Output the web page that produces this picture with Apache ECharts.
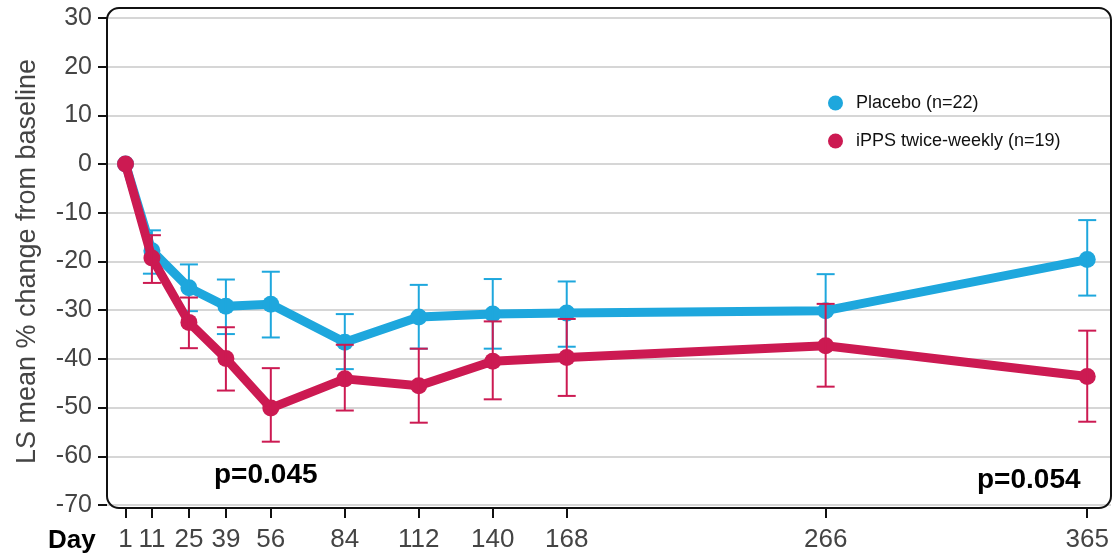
<!DOCTYPE html>
<html lang="en">
<head>
    <meta charset="UTF-8">
    <title>LS mean % change from baseline</title>
    <script src="https://cdn.jsdelivr.net/npm/echarts@6.0.0/dist/echarts.min.js"></script>
    <style>
        body, html {
            margin: 0;
            padding: 0;
            width: 100%;
            height: 100%;
            overflow: hidden;
            background-color: #fff;
        }
        #container {
            width: 1114px;
            height: 560px;
        }
    </style>
</head>
<body>
    <div id="container"></div>
    <script>
        // study days on the x axis
        var days = [1, 11, 25, 39, 56, 84, 112, 140, 168, 266, 365];
        var yTicks = [-70, -60, -50, -40, -30, -20, -10, 0, 10, 20, 30];

        // placebo: mean and error bar ends
        var placeboMean = [0, -17.8, -25.4, -29.2, -28.8, -36.6, -31.4, -30.8, -30.6, -30.1, -19.6];
        var placeboLow  = [0, -22.5, -30.2, -34.9, -35.6, -42.1, -37.9, -37.9, -37.5, -37.0, -27.0];
        var placeboHigh = [0, -13.6, -20.6, -23.7, -22.1, -30.8, -24.8, -23.6, -24.1, -22.6, -11.5];

        // iPPS twice-weekly
        var ippsMean = [0, -19.3, -32.5, -39.9, -50.1, -44.1, -45.5, -40.5, -39.7, -37.3, -43.6];
        var ippsLow  = [0, -24.4, -37.8, -46.5, -57.0, -50.6, -53.1, -48.3, -47.6, -45.7, -52.9];
        var ippsHigh = [0, -14.6, -27.4, -33.5, -41.9, -37.1, -37.9, -32.3, -31.8, -28.7, -34.2];

        var seriesNames = ['Placebo (n=22)', 'iPPS twice-weekly (n=19)'];
        var pValues = ['p=0.045', 'p=0.054'];

        var blue = '#1ea7dd';
        var red = '#cc1a52';
        var font = 'Liberation Sans, Arial, sans-serif';

        function pairs(xs, ys) {
            return xs.map(function (x, i) { return [x, ys[i]]; });
        }
        function errRows(xs, lo, hi) {
            return xs.map(function (x, i) { return [x, lo[i], hi[i]]; });
        }

        // vertical whisker with caps
        function errorBar(color) {
            return function (params, api) {
                var lo = api.value(1), hi = api.value(2);
                if (lo === hi) return null;
                var p1 = api.coord([api.value(0), hi]);
                var p2 = api.coord([api.value(0), lo]);
                var w = 9;
                var st = { stroke: color, lineWidth: 2 };
                return {
                    type: 'group',
                    children: [
                        { type: 'line', shape: { x1: p1[0], y1: p1[1], x2: p2[0], y2: p2[1] }, style: st },
                        { type: 'line', shape: { x1: p1[0] - w, y1: p1[1], x2: p1[0] + w, y2: p1[1] }, style: st },
                        { type: 'line', shape: { x1: p2[0] - w, y1: p2[1], x2: p2[0] + w, y2: p2[1] }, style: st }
                    ]
                };
            };
        }

        var gridLeft = 107, gridTop = 18, gridW = 1004, gridH = 487;

        var option = {
            backgroundColor: '#fff',
            animation: false,
            grid: { left: gridLeft, top: gridTop, width: gridW, height: gridH },
            legend: {
                orient: 'vertical',
                left: 823,
                top: 89,
                icon: 'circle',
                itemWidth: 15,
                itemHeight: 15,
                itemGap: 20,
                data: seriesNames,
                textStyle: {
                    fontFamily: font,
                    fontSize: 18,
                    color: '#111',
                    padding: [0, 0, 0, 8]
                }
            },
            xAxis: {
                type: 'value',
                min: -6,
                max: 374,
                offset: 3,
                axisLine: { show: false, onZero: false },
                splitLine: { show: false },
                axisTick: {
                    customValues: days,
                    length: 10,
                    lineStyle: { color: '#111', width: 2 }
                },
                axisLabel: {
                    customValues: days,
                    margin: 19,
                    fontFamily: font,
                    fontSize: 26,
                    color: '#444'
                }
            },
            yAxis: {
                type: 'value',
                min: -70,
                max: 30,
                interval: 10,
                name: 'LS mean % change from baseline',
                nameLocation: 'middle',
                nameGap: 66,
                nameTextStyle: {
                    fontFamily: font,
                    fontSize: 27,
                    color: '#444'
                },
                axisLine: { show: false, onZero: false },
                axisTick: {
                    show: true,
                    length: 9,
                    lineStyle: { color: '#111', width: 2 }
                },
                axisLabel: {
                    customValues: yTicks,
                    margin: 15,
                    fontFamily: font,
                    fontSize: 25,
                    color: '#444'
                },
                splitLine: { lineStyle: { color: '#c8c8c8', width: 1.5 } }
            },
            graphic: [
                {
                    type: 'rect',
                    shape: { x: gridLeft, y: 8, width: gridW, height: 500, r: 12 },
                    style: { fill: 'none', stroke: '#111', lineWidth: 2 },
                    z: 100
                },
                {
                    type: 'text',
                    left: 48,
                    top: 528,
                    style: { text: 'Day', fontFamily: font, fontSize: 26, fontWeight: 'bold', fill: '#000' }
                },
                {
                    type: 'text',
                    left: 214,
                    top: 461,
                    style: { text: pValues[0], fontFamily: font, fontSize: 28, fontWeight: 'bold', fill: '#000' }
                },
                {
                    type: 'text',
                    left: 977,
                    top: 466,
                    style: { text: pValues[1], fontFamily: font, fontSize: 28, fontWeight: 'bold', fill: '#000' }
                }
            ],
            series: [
                {
                    name: seriesNames[0],
                    type: 'line',
                    data: pairs(days, placeboMean),
                    symbol: 'circle',
                    symbolSize: 17,
                    color: blue,
                    lineStyle: { width: 9, color: blue },
                    z: 2
                },
                {
                    type: 'custom',
                    data: errRows(days, placeboLow, placeboHigh),
                    renderItem: errorBar(blue),
                    z: 3
                },
                {
                    name: seriesNames[1],
                    type: 'line',
                    data: pairs(days, ippsMean),
                    symbol: 'circle',
                    symbolSize: 17,
                    color: red,
                    lineStyle: { width: 9, color: red },
                    z: 4
                },
                {
                    type: 'custom',
                    data: errRows(days, ippsLow, ippsHigh),
                    renderItem: errorBar(red),
                    z: 5
                }
            ]
        };

        var chart = echarts.init(document.getElementById('container'));
        chart.setOption(option);
    </script>
</body>
</html>
